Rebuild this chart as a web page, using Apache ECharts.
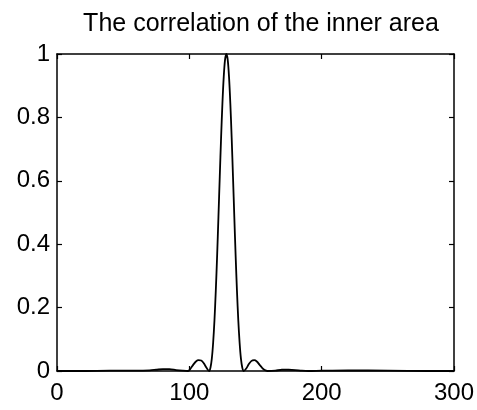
<!DOCTYPE html>
<html>
<head>
<meta charset="utf-8">
<script src="https://cdn.jsdelivr.net/npm/echarts@6/dist/echarts.min.js"></script>
<style>html,body{margin:0;padding:0;background:#fff}#c{width:477px;height:410px}</style>
</head>
<body>
<div id="c"></div>
<script>
var titleText = 'The correlation of the inner area';
var xValues = [0, 20, 40, 60, 70, 75, 80, 85, 90, 95, 99, 101, 103, 105, 107, 109, 111, 113, 115,
  116, 117, 118, 119, 120, 121, 122, 123, 124, 125, 126, 127, 128, 129, 130, 131, 132, 133, 134,
  135, 136, 137, 138, 139, 140, 141, 143, 145, 147, 149, 151, 153, 155, 157, 159, 165, 170, 175,
  180, 185, 190, 200, 220, 250, 280, 300];
var yValues = [0, 0, 0.001, 0.001, 0.002, 0.004, 0.006, 0.006, 0.003, 0.001, 0, 0.008, 0.02, 0.03, 0.034, 0.033, 0.024, 0.01, 0,
  0.011, 0.039, 0.089, 0.16, 0.253, 0.363, 0.486, 0.613, 0.736, 0.843, 0.928, 0.982, 1, 0.982, 0.928, 0.843, 0.736, 0.613, 0.486,
  0.363, 0.253, 0.16, 0.089, 0.039, 0.011, 0, 0.008, 0.022, 0.032, 0.034, 0.03, 0.02, 0.01, 0.003, 0, 0.001, 0.004, 0.004,
  0.003, 0.001, 0, 0.001, 0.002, 0.001, 0, 0];
var xTicks = [0, 100, 200, 300];
var yTicks = [0, 0.2, 0.4, 0.6, 0.8, 1];

var font = '"Liberation Sans", Arial, Helvetica, sans-serif';
var data = xValues.map(function (x, i) { return [x, yValues[i]]; });
var chart = echarts.init(document.getElementById('c'), null, {renderer: 'canvas'});
function axisBase(show, margin) {
  return {
    axisLine: {show: true, onZero: false, lineStyle: {color: '#000', width: 1.5}},
    axisTick: {show: true, inside: true, length: 5, lineStyle: {color: '#000', width: 1.2}},
    splitLine: {show: false},
    axisLabel: {show: show, margin: margin, color: '#000', fontSize: 24, fontFamily: font}
  };
}
var xb = axisBase(true, 10), xt = axisBase(false, 8), yl = axisBase(true, 7), yr = axisBase(false, 8);
chart.setOption({
  animation: false,
  backgroundColor: '#fff',
  title: {
    text: titleText, left: 256, top: 7, textAlign: 'center',
    textStyle: {fontSize: 25, fontWeight: 'normal', color: '#000', fontFamily: font}
  },
  grid: {left: 57, right: 22, top: 54, bottom: 39, containLabel: false},
  xAxis: [
    Object.assign(xb, {type: 'value', position: 'bottom', min: xTicks[0], max: xTicks[xTicks.length - 1], interval: 100}),
    Object.assign(xt, {type: 'value', position: 'top', min: xTicks[0], max: xTicks[xTicks.length - 1], interval: 100})
  ],
  yAxis: [
    Object.assign(yl, {type: 'value', position: 'left', min: yTicks[0], max: yTicks[yTicks.length - 1], interval: 0.2}),
    Object.assign(yr, {type: 'value', position: 'right', min: yTicks[0], max: yTicks[yTicks.length - 1], interval: 0.2})
  ],
  series: [{
    type: 'line', data: data, xAxisIndex: 0, yAxisIndex: 0,
    showSymbol: false, smooth: 0.3,
    lineStyle: {color: '#000', width: 1.8}
  }]
});
</script>
</body>
</html>
